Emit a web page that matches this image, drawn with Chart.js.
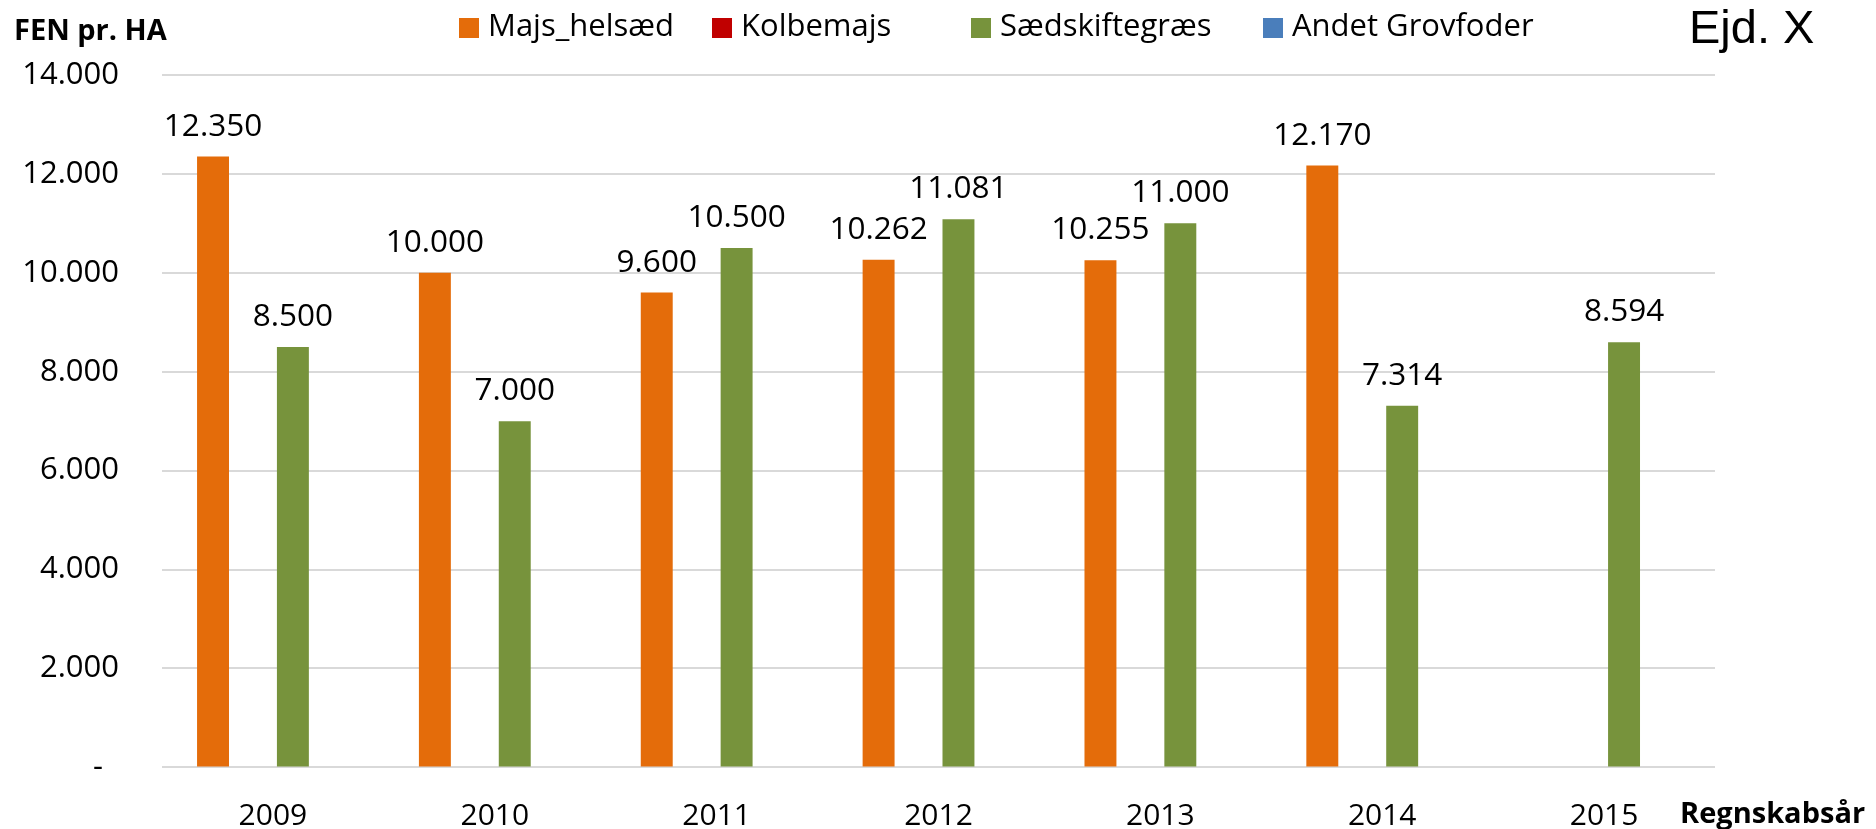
<!DOCTYPE html>
<html>
<head>
<meta charset="utf-8">
<script src="https://cdn.jsdelivr.net/npm/chart.js@4.4.1/dist/chart.umd.min.js"></script>
<style>
  html, body { margin: 0; padding: 0; background: #ffffff; }
  #wrap { width: 1876px; height: 829px; position: relative; }
</style>
</head>
<body>
<div id="wrap"><canvas id="c" width="1876" height="829"></canvas></div>
<script>
const categories = ['2009', '2010', '2011', '2012', '2013', '2014', '2015'];
const majsHelsaed = [12350, 10000, 9600, 10262, 10255, 12170, null];
const kolbemajs = [null, null, null, null, null, null, null];
const saedskiftegraes = [8500, 7000, 10500, 11081, 11000, 7314, 8594];
const andetGrovfoder = [null, null, null, null, null, null, null];
const yTicks = [0, 2000, 4000, 6000, 8000, 10000, 12000, 14000];
const seriesNames = ['Majs_helsæd', 'Kolbemajs', 'Sædskiftegræs', 'Andet Grovfoder'];
const yTitle = 'FEN pr. HA';
const xTitle = 'Regnskabsår';
const cornerTitle = 'Ejd. X';

const FONT = "'Open Sans', 'DejaVu Sans', sans-serif";

function fmt(v) {
  if (v === 0) return '-  ';
  const s = String(Math.round(v));
  return s.replace(/\B(?=(\d{3})+(?!\d))/g, '.');
}

const colors = ['#E46C0A', '#C00000', '#77933C', '#4A7EBB'];

const extras = {
  id: 'extras',
  afterDraw(chart) {
    const ctx = chart.ctx;
    ctx.save();
    // data labels
    ctx.font = '31.5px ' + FONT;
    ctx.fillStyle = '#000000';
    ctx.textAlign = 'center';
    ctx.textBaseline = 'alphabetic';
    chart.data.datasets.forEach((ds, di) => {
      const meta = chart.getDatasetMeta(di);
      meta.data.forEach((bar, i) => {
        const v = ds.data[i];
        if (v === null || v === undefined) return;
        ctx.fillText(fmt(v), bar.x, bar.y - 21);
      });
    });
    // legend
    const starts = [459, 712, 971, 1263];
    ctx.font = '31px ' + FONT;
    ctx.textAlign = 'left';
    ctx.textBaseline = 'middle';
    chart.data.datasets.forEach((ds, di) => {
      const x = starts[di];
      ctx.fillStyle = ds.backgroundColor;
      ctx.fillRect(x, 18, 20, 20);
      ctx.fillStyle = '#000000';
      ctx.fillText(ds.label, x + 29, 27);
    });
    // y title
    ctx.font = 'bold 29px ' + FONT;
    ctx.textBaseline = 'alphabetic';
    ctx.fillText(yTitle, 14, 40);
    // x title
    ctx.fillText(xTitle, 1680, 823);
    // corner title
    ctx.font = "47px 'Liberation Sans', Arial, sans-serif";
    ctx.fillText(cornerTitle, 1689, 43);
    ctx.restore();
  }
};

new Chart(document.getElementById('c'), {
  type: 'bar',
  data: {
    labels: categories,
    datasets: [
      { label: seriesNames[0], data: majsHelsaed, backgroundColor: colors[0] },
      { label: seriesNames[1], data: kolbemajs, backgroundColor: colors[1] },
      { label: seriesNames[2], data: saedskiftegraes, backgroundColor: colors[2] },
      { label: seriesNames[3], data: andetGrovfoder, backgroundColor: colors[3] }
    ]
  },
  options: {
    responsive: false,
    animation: false,
    devicePixelRatio: 1,
    layout: { padding: { top: 75, right: 161, left: 0, bottom: 0 } },
    datasets: { bar: { categoryPercentage: 0.72, barPercentage: 0.8 } },
    plugins: {
      legend: { display: false },
      tooltip: { enabled: false },
      title: { display: false }
    },
    scales: {
      x: {
        grid: { display: false, drawTicks: false },
        border: { display: false },
        ticks: { font: { family: FONT, size: 30 }, color: '#000000', padding: 31, maxRotation: 0 },
        afterFit(scale) { scale.height = 61; }
      },
      y: {
        min: 0,
        max: 14000,
        afterBuildTicks(scale) { scale.ticks = yTicks.map(v => ({ value: v })); },
        grid: { color: '#d9d9d9', lineWidth: 2, drawTicks: false },
        border: { display: false },
        ticks: {
          font: { family: FONT, size: 31 },
          color: '#000000',
          padding: 43,
          callback: (v) => fmt(v)
        },
        afterFit(scale) { scale.width = 162; }
      }
    }
  },
  plugins: [extras]
});
</script>
</body>
</html>
